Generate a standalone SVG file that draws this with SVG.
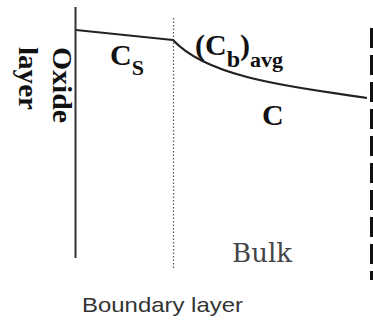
<svg xmlns="http://www.w3.org/2000/svg" width="373" height="322" viewBox="0 0 373 322">
<style>
.lbl{font-family:"Liberation Serif","Times New Roman",serif;font-weight:bold;fill:#111}
.sans{font-family:"Liberation Sans",Arial,sans-serif;fill:#333}
</style>
<rect width="373" height="322" fill="#fff"/>
<g id="connectors" fill="none">
<line id="oxide-wall" x1="75.5" y1="7" x2="75.5" y2="258" stroke="#333" stroke-width="2"/>
<line id="boundary-edge" x1="173.5" y1="18" x2="173.5" y2="270" stroke="#555" stroke-width="1.2" stroke-dasharray="1.5 2"/>
<line id="bulk-edge" x1="371.5" y1="28" x2="371.5" y2="280" stroke="#111" stroke-width="3" stroke-dasharray="20 7"/>
<line id="cs-profile" x1="76" y1="30" x2="173" y2="40" stroke="#222" stroke-width="2"/>
<path id="c-profile" d="M173,40 C185,53 205,66 247,77 S330,92 367,98" stroke="#222" stroke-width="2.2"/>
</g>
<g id="oxide-label">
<text class="lbl" font-size="28" transform="translate(53,47) rotate(90)" textLength="76" lengthAdjust="spacingAndGlyphs">Oxide</text>
<text class="lbl" font-size="27" transform="translate(19,47) rotate(90)" textLength="63" lengthAdjust="spacingAndGlyphs">layer</text>
</g>
<g id="cs-label">
<text class="lbl" x="110" y="65" font-size="30">C<tspan font-size="22" dy="10">S</tspan></text>
</g>
<g id="cb-label">
<text class="lbl" x="195" y="55" font-size="30">(C<tspan font-size="24" dy="12">b</tspan><tspan dy="-12">)</tspan><tspan font-size="22" dy="12">avg</tspan></text>
</g>
<g id="c-label">
<text class="lbl" x="262" y="125" font-size="30">C</text>
</g>
<g id="bulk-label">
<text x="232" y="262" font-family="'DejaVu Serif',serif" font-size="26" fill="#444" textLength="60" lengthAdjust="spacingAndGlyphs">Bulk</text>
</g>
<g id="boundary-label">
<text class="sans" x="82" y="312" font-size="21" textLength="161" lengthAdjust="spacingAndGlyphs">Boundary layer</text>
</g>
</svg>
